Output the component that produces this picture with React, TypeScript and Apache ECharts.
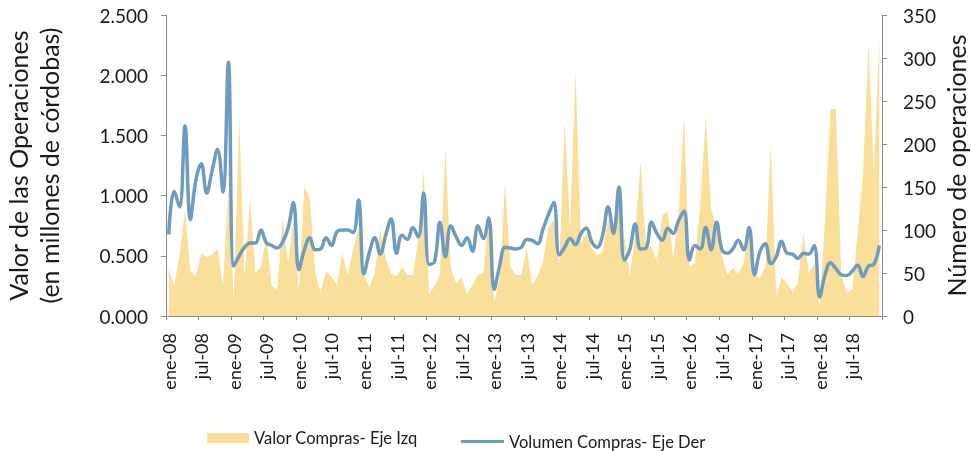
import React, { useEffect, useRef } from "react";
import * as echarts from "echarts";

const monthNames = ["ene", "feb", "mar", "abr", "may", "jun", "jul", "ago", "sep", "oct", "nov", "dic"];
const yearLabels = ["08", "09", "10", "11", "12", "13", "14", "15", "16", "17", "18"];
const categories: string[] = [];
yearLabels.forEach((y) => monthNames.forEach((m) => categories.push(`${m}-${y}`)));

// Valor Compras (eje izquierdo)
const valorCompras = [
  0.39, 0.25, 0.5, 0.88, 0.37, 0.33, 0.52, 0.49, 0.51, 0.56, 0.25, 1.05,
  0.14, 1.65, 0.33, 0.99, 0.36, 0.41, 0.66, 0.25, 0.22, 0.81, 0.44, 0.8,
  0.19, 1.07, 0.98, 0.37, 0.19, 0.37, 0.33, 0.26, 0.52, 0.34, 0.55, 0.74,
  0.34, 0.24, 0.36, 0.72, 0.48, 0.35, 0.33, 0.41, 0.34, 0.34, 0.63, 1.2,
  0.18, 0.25, 0.34, 1.4, 0.4, 0.27, 0.32, 0.18, 0.26, 0.34, 0.36, 0.85,
  0.12, 0.3, 1.11, 0.41, 0.34, 0.34, 0.56, 0.26, 0.33, 0.45, 0.73, 0.8,
  0.41, 1.62, 0.72, 2.04, 0.61, 0.69, 0.56, 0.5, 0.54, 0.81, 0.66, 1.03,
  0.66, 0.33, 0.67, 1.28, 0.58, 0.58, 0.45, 0.84, 0.87, 0.48, 0.85, 1.66,
  0.41, 0.44, 0.92, 1.65, 0.89, 0.74, 0.5, 0.34, 0.4, 0.35, 0.44, 0.72,
  0.34, 0.32, 0.4, 1.44, 0.16, 0.32, 0.27, 0.2, 0.27, 0.69, 0.35, 0.44,
  0.08, 0.79, 1.72, 1.72, 0.34, 0.19, 0.22, 0.68, 1.18, 2.26, 1.18, 2.32,
];

// Volumen Compras (eje derecho)
const volumenCompras = [
  95, 145, 127, 221, 112, 158, 177, 143, 169, 194, 144, 295,
  58, 70, 80, 85, 85, 100, 85, 82, 79, 86, 102, 132,
  54, 77, 91, 77, 78, 91, 82, 98, 100, 100, 97, 135,
  49, 74, 91, 72, 94, 113, 73, 94, 89, 103, 92, 143,
  60, 63, 109, 69, 105, 92, 82, 91, 75, 105, 90, 114,
  31, 58, 80, 79, 78, 80, 89, 88, 84, 101, 118, 132,
  71, 80, 90, 83, 96, 102, 86, 80, 94, 127, 96, 150,
  65, 77, 107, 78, 79, 109, 96, 88, 102, 96, 111, 122,
  65, 82, 78, 103, 77, 109, 77, 73, 78, 88, 77, 103,
  48, 75, 84, 61, 69, 87, 73, 72, 67, 73, 72, 82,
  22, 48, 62, 55, 48, 47, 52, 59, 46, 58, 60, 82,
];

const leftTicks = { min: 0, max: 2.5, interval: 0.5 };
const rightTicks = { min: 0, max: 350, interval: 50 };

const FONT = "Lato";
const TXT = "#1a1a1a";
const AXIS = "#898989";
const AREA = "#F9DF9A";
const LINE = "#6E9BC0";

export default function App() {
  const ref = useRef<HTMLDivElement>(null);
  useEffect(() => {
    if (!ref.current) return;
    const chart = echarts.init(ref.current, null, { renderer: "svg" });
    const axisLine = { show: true, lineStyle: { color: AXIS, width: 1 } };
    chart.setOption({
      animation: false,
      textStyle: { fontFamily: FONT },
      grid: {
        left: 166,
        right: 90,
        top: 15,
        bottom: 135,
        containLabel: false,
        outerBoundsMode: "none",
      },
      legend: [
        {
          data: [{ name: "Valor Compras- Eje Izq", icon: "rect" }],
          left: 207,
          top: 429.5,
          padding: 0,
          itemWidth: 42,
          itemHeight: 10,
          selectedMode: false,
          textStyle: { fontFamily: FONT, fontSize: 16.5, color: TXT },
        },
        {
          data: [{ name: "Volumen Compras- Eje Der", icon: "rect" }],
          left: 461,
          top: 433,
          padding: 0,
          itemWidth: 43,
          itemHeight: 3,
          selectedMode: false,
          textStyle: { fontFamily: FONT, fontSize: 16.5, color: TXT },
        },
      ],
      xAxis: {
        type: "category",
        data: categories,
        boundaryGap: true,
        axisLine,
        axisTick: { show: true, interval: 5, length: 4, lineStyle: { color: AXIS } },
        axisLabel: {
          interval: 5,
          rotate: 90,
          margin: 17,
          fontSize: 18,
          fontFamily: FONT,
          color: TXT,
        },
        splitLine: { show: false },
      },
      yAxis: [
        {
          type: "value",
          position: "left",
          ...leftTicks,
          axisLine,
          axisTick: { show: true, length: 5, lineStyle: { color: AXIS } },
          splitLine: { show: false },
          axisLabel: {
            formatter: (v: number) => v.toFixed(3),
            fontSize: 19,
            fontFamily: FONT,
            color: TXT,
            margin: 18,
          },
          name: "Valor de las Operaciones\n(en millones de córdobas)",
          nameLocation: "middle",
          nameRotate: 90,
          nameGap: 102,
          nameMoveOverlap: false,
          nameTextStyle: { fontSize: 25, lineHeight: 31, fontFamily: FONT, color: TXT },
        },
        {
          type: "value",
          position: "right",
          ...rightTicks,
          axisLine,
          axisTick: { show: true, length: 5, lineStyle: { color: AXIS } },
          splitLine: { show: false },
          axisLabel: {
            formatter: (v: number) => String(v),
            fontSize: 19,
            fontFamily: FONT,
            color: TXT,
            margin: 21,
          },
          name: "Número de operaciones",
          nameLocation: "middle",
          nameRotate: 90,
          nameGap: 61,
          nameMoveOverlap: false,
          nameTextStyle: { fontSize: 25, fontFamily: FONT, color: TXT },
        },
      ],
      series: [
        {
          name: "Valor Compras- Eje Izq",
          type: "line",
          yAxisIndex: 0,
          data: valorCompras,
          symbol: "none",
          smooth: false,
          lineStyle: { width: 0, color: AREA },
          itemStyle: { color: AREA },
          areaStyle: { color: AREA, opacity: 1 },
          z: 1,
        },
        {
          name: "Volumen Compras- Eje Der",
          type: "line",
          yAxisIndex: 1,
          data: volumenCompras,
          symbol: "none",
          smooth: 0.4,
          lineStyle: { width: 3.5, color: LINE },
          itemStyle: { color: LINE },
          z: 2,
        },
      ],
    });
    return () => chart.dispose();
  }, []);
  return (
    <div
      ref={ref}
      style={{ position: "fixed", left: 0, top: 0, width: 972, height: 451 }}
    />
  );
}
